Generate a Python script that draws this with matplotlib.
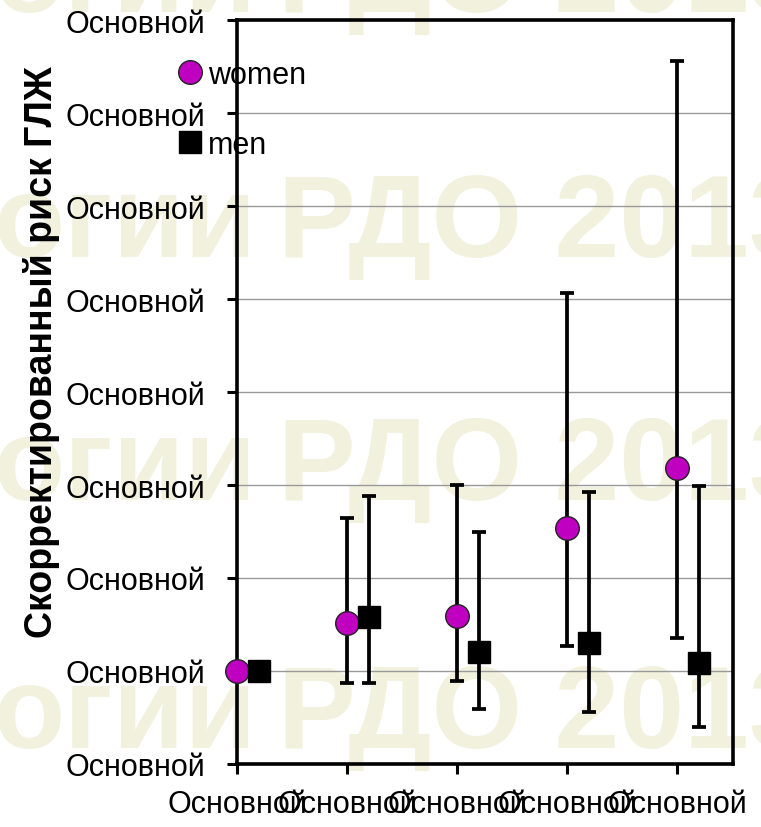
import matplotlib
matplotlib.use("Agg")
import matplotlib.pyplot as plt
from matplotlib import font_manager

# font check - narrow Arial look-alike if there is one
names = {f.name for f in font_manager.fontManager.ttflist}
if "Liberation Sans Narrow" in names:
    narrow = "Liberation Sans Narrow"
    tick_size = 26
else:
    narrow = "Liberation Sans"
    tick_size = 22

# data (adjusted risk, reference group = 1)
groups = [1, 2, 3, 4, 5]
tick_labels = ["Основной"] * 5
ytick_labels = ["Основной"] * 9

women = [1.0, 1.52, 1.59, 2.54, 3.18]
women_lo = [1.0, 0.87, 0.89, 1.27, 1.36]
women_hi = [1.0, 2.65, 3.0, 5.07, 7.56]

men = [1.0, 1.58, 1.20, 1.30, 1.09]
men_lo = [1.0, 0.87, 0.59, 0.56, 0.40]
men_hi = [1.0, 2.88, 2.49, 2.93, 2.99]

men_x = [g + 0.2 for g in groups]

fig = plt.figure(figsize=(7.61, 8.28), dpi=100)

# watermark in the background
wm_color = "#f2f1de"
for yb in [0.9855, 0.6896, 0.3961, 0.0966]:
    fig.text(0.337, yb, "огии", ha="right", va="baseline", fontsize=84,
             fontweight="bold", family="Liberation Sans", color=wm_color, zorder=-5)
    fig.text(0.365, yb, "РДО 2013", ha="left", va="baseline", fontsize=84,
             fontweight="bold", family="Liberation Sans", color=wm_color, zorder=-5)

ax = fig.add_axes([0.3114, 0.0761, 0.6518, 0.8985])
ax.patch.set_alpha(0)

# error bars first, markers on top
w_err = [[w - lo for w, lo in zip(women, women_lo)], [hi - w for w, hi in zip(women, women_hi)]]
m_err = [[m - lo for m, lo in zip(men, men_lo)], [hi - m for m, hi in zip(men, men_hi)]]
ax.errorbar(groups, women, yerr=w_err, fmt="none", ecolor="black", elinewidth=2.7,
            capsize=5, capthick=2.7, zorder=3, clip_on=False)
ax.errorbar(men_x, men, yerr=m_err, fmt="none", ecolor="black", elinewidth=2.7,
            capsize=5, capthick=2.7, zorder=3, clip_on=False)
ax.plot(groups, women, "o", color="#c000c0", markeredgecolor="#222222", markeredgewidth=1,
        markersize=17, label="women", zorder=5, clip_on=False)
ax.plot(men_x, men, "s", color="black", markersize=16, label="men", zorder=5, clip_on=False)

ax.set_xlim(1, 5.51)
ax.set_ylim(0, 8)
ax.set_xticks(groups)
ax.set_xticklabels(tick_labels, family=narrow, fontsize=tick_size)
ax.set_yticks(range(9))
ax.set_yticklabels(ytick_labels, family=narrow, fontsize=tick_size)
ax.tick_params(axis="both", direction="out", length=7, width=2.2, colors="black")
ax.tick_params(axis="y", pad=16)
ax.tick_params(axis="x", pad=11)

ax.yaxis.grid(True, color="#999999", linewidth=1)
ax.set_axisbelow(True)
for s in ax.spines.values():
    s.set_linewidth(2.6)
    s.set_color("black")

fig.text(0.054, 0.575, "Скорректированный риск ГЛЖ", rotation=90, ha="center", va="center",
         family=narrow, fontweight="bold", fontsize=27)

fig.legend(loc="upper left", bbox_to_anchor=(0.209, 0.945), frameon=False,
           prop={"family": narrow, "size": tick_size}, handletextpad=0.1,
           handlelength=1.0, labelspacing=1.3, borderpad=0)

fig.savefig("out.png", dpi=100)
